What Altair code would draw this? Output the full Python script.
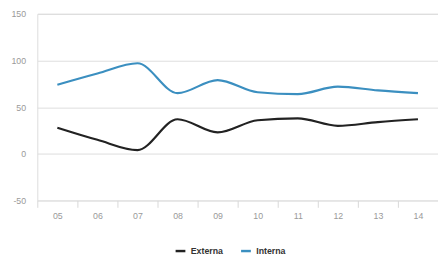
import altair as alt
import pandas as pd

years = ["05", "06", "07", "08", "09", "10", "11", "12", "13", "14"]
externa = [28, 15, 4, 37, 23, 36, 38, 30, 34, 37]
interna = [74, 86, 97, 65, 79, 66, 64, 72, 68, 65]
series = ["Externa", "Interna"]
colors = ["#222222", "#3b8fc0"]

rows = []
for name, vals in zip(series, [externa, interna]):
    for y, v in zip(years, vals):
        rows.append({"year": y, "value": v, "serie": name})
df = pd.DataFrame(rows)

chart = alt.Chart(df).mark_line(interpolate="monotone", strokeWidth=2.2).encode(
    x=alt.X("year:O", sort=years, bandPosition=0.5,
            scale=alt.Scale(type="band", paddingInner=0, paddingOuter=0),
            axis=alt.Axis(title=None, labelAngle=0, grid=False, domain=False,
                          ticks=True, tickBand="extent", tickSize=7, tickColor="#d8d8d8",
                          labelColor="#9a9a9a", labelFont="Liberation Sans", labelFontSize=9,
                          labelPadding=4)),
    y=alt.Y("value:Q", scale=alt.Scale(domain=[-50, 150], nice=False),
            axis=alt.Axis(title=None, values=[-50, 0, 50, 100, 150], domain=False, ticks=False,
                          labelExpr="'' + datum.value",
                          gridColor="#dddddd", labelColor="#9a9a9a", labelFont="Liberation Sans",
                          labelFontSize=9, labelPadding=12)),
    color=alt.Color("serie:N", scale=alt.Scale(domain=series, range=colors),
                    legend=alt.Legend(title=None, orient="none", legendX=140, legendY=236,
                                      direction="horizontal", symbolType="stroke",
                                      symbolStrokeWidth=2.5, symbolSize=100,
                                      labelFont="Liberation Sans", labelFontSize=9,
                                      labelFontWeight="bold", labelColor="#333333",
                                      columnPadding=12, padding=0)),
).properties(
    width=410, height=191,
    autosize=alt.AutoSizeParams(type="none"),
    padding={"left": 30, "top": 3, "right": 0, "bottom": 60},
).configure_view(stroke=None).configure(background="white")

chart.save("out.html", embed_options={"renderer": "svg", "actions": False})
